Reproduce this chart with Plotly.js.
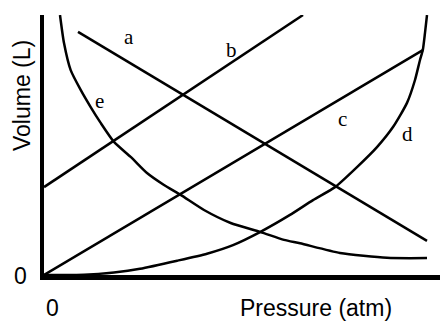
<!DOCTYPE html>
<html>
<head>
<meta charset="utf-8">
<script src="https://cdn.plot.ly/plotly-3.0.1.min.js"></script>
<style>html,body{margin:0;padding:0;background:#fff;}#chart{width:440px;height:321px;}</style>
</head>
<body>
<div id="chart"></div>
<script>
// Data (arbitrary units: pressure 0-9.9, volume 0-10)
const aX = [0.85, 9.575];
const aY = [9.35, 1.31];
const bX = [0, 6.475];
const bY = [3.38, 10.0];
const cX = [0, 9.47];
const cY = [0, 8.65];
const dX = [0, 1.0, 1.75, 2.4, 3.33, 4.075, 4.725, 5.4, 6.15, 6.725, 7.275, 7.825, 8.325, 8.725, 9.075, 9.275, 9.4, 9.47, 9.525, 9.575];
const dY = [0, 0.01, 0.1, 0.24, 0.55, 0.82, 1.15, 1.65, 2.31, 2.88, 3.38, 4.15, 4.92, 5.69, 6.62, 7.5, 8.27, 8.65, 9.31, 10.0];
const eX = [0.4, 0.5, 0.667, 0.917, 1.167, 1.417, 1.75, 2.167, 2.575, 3.0, 3.417, 4.0, 4.667, 5.417, 6.0, 6.4, 7.4, 8.575, 9.575];
const eY = [10.0, 8.92, 7.88, 7.12, 6.46, 5.85, 5.12, 4.54, 3.92, 3.46, 3.08, 2.5, 2.0, 1.65, 1.35, 1.22, 0.85, 0.66, 0.65];
const curveNames = ['a', 'b', 'c', 'd', 'e'];
const xTitle = 'Pressure (atm)';
const yTitle = 'Volume (L)';
const zeroLabel = '0';

const W = 440, H = 321;
const M = {l: 44, r: 0, t: 15, b: 46};
const pw = W - M.l - M.r, ph = H - M.t - M.b;
function px(x) { return (x - M.l) / pw; }
function py(y) { return (H - M.b - y) / ph; }

const lineStyle = {color: '#000', width: 2.5};
function tr(x, y, name, shape) {
  return {x: x, y: y, name: name, type: 'scatter', mode: 'lines',
    line: Object.assign({}, lineStyle, {shape: shape || 'linear', smoothing: 0.6}),
    hoverinfo: 'skip', showlegend: false};
}
const data = [
  tr(aX, aY, 'a'), tr(bX, bY, 'b'), tr(cX, cY, 'c'),
  tr(dX, dY, 'd', 'spline'), tr(eX, eY, 'e', 'spline')
];

const serif = {family: 'Liberation Serif, Times New Roman, serif', size: 21, color: '#000'};
const sans = {family: 'Liberation Sans, Arial, sans-serif', size: 23, color: '#000'};
const labelPos = [[129, 37], [231, 50], [342, 119], [407, 134], [99, 101]];
const ann = curveNames.map((n, i) => ({
  text: n, xref: 'paper', yref: 'paper', x: px(labelPos[i][0]), y: py(labelPos[i][1]),
  xanchor: 'center', yanchor: 'middle', showarrow: false, font: serif
}));
ann.push({text: xTitle, xref: 'paper', yref: 'paper', x: px(316), y: py(308),
  xanchor: 'center', yanchor: 'middle', showarrow: false, font: sans});
ann.push({text: yTitle, xref: 'paper', yref: 'paper', x: px(22), y: py(96), textangle: -90,
  xanchor: 'center', yanchor: 'middle', showarrow: false, font: sans});
ann.push({text: zeroLabel, xref: 'paper', yref: 'paper', x: px(20), y: py(276),
  xanchor: 'center', yanchor: 'middle', showarrow: false, font: sans});
ann.push({text: zeroLabel, xref: 'paper', yref: 'paper', x: px(52), y: py(308),
  xanchor: 'center', yanchor: 'middle', showarrow: false, font: sans});

const layout = {
  width: W, height: H, margin: M,
  paper_bgcolor: '#fff', plot_bgcolor: '#fff',
  xaxis: {range: [0, 9.9], showgrid: false, zeroline: false, showticklabels: false, ticks: '',
    showline: true, linecolor: '#000', linewidth: 5, fixedrange: true},
  yaxis: {range: [0, 10], showgrid: false, zeroline: false, showticklabels: false, ticks: '',
    showline: true, linecolor: '#000', linewidth: 4, fixedrange: true},
  annotations: ann,
  showlegend: false
};
Plotly.newPlot('chart', data, layout, {staticPlot: true, displayModeBar: false});
</script>
</body>
</html>
